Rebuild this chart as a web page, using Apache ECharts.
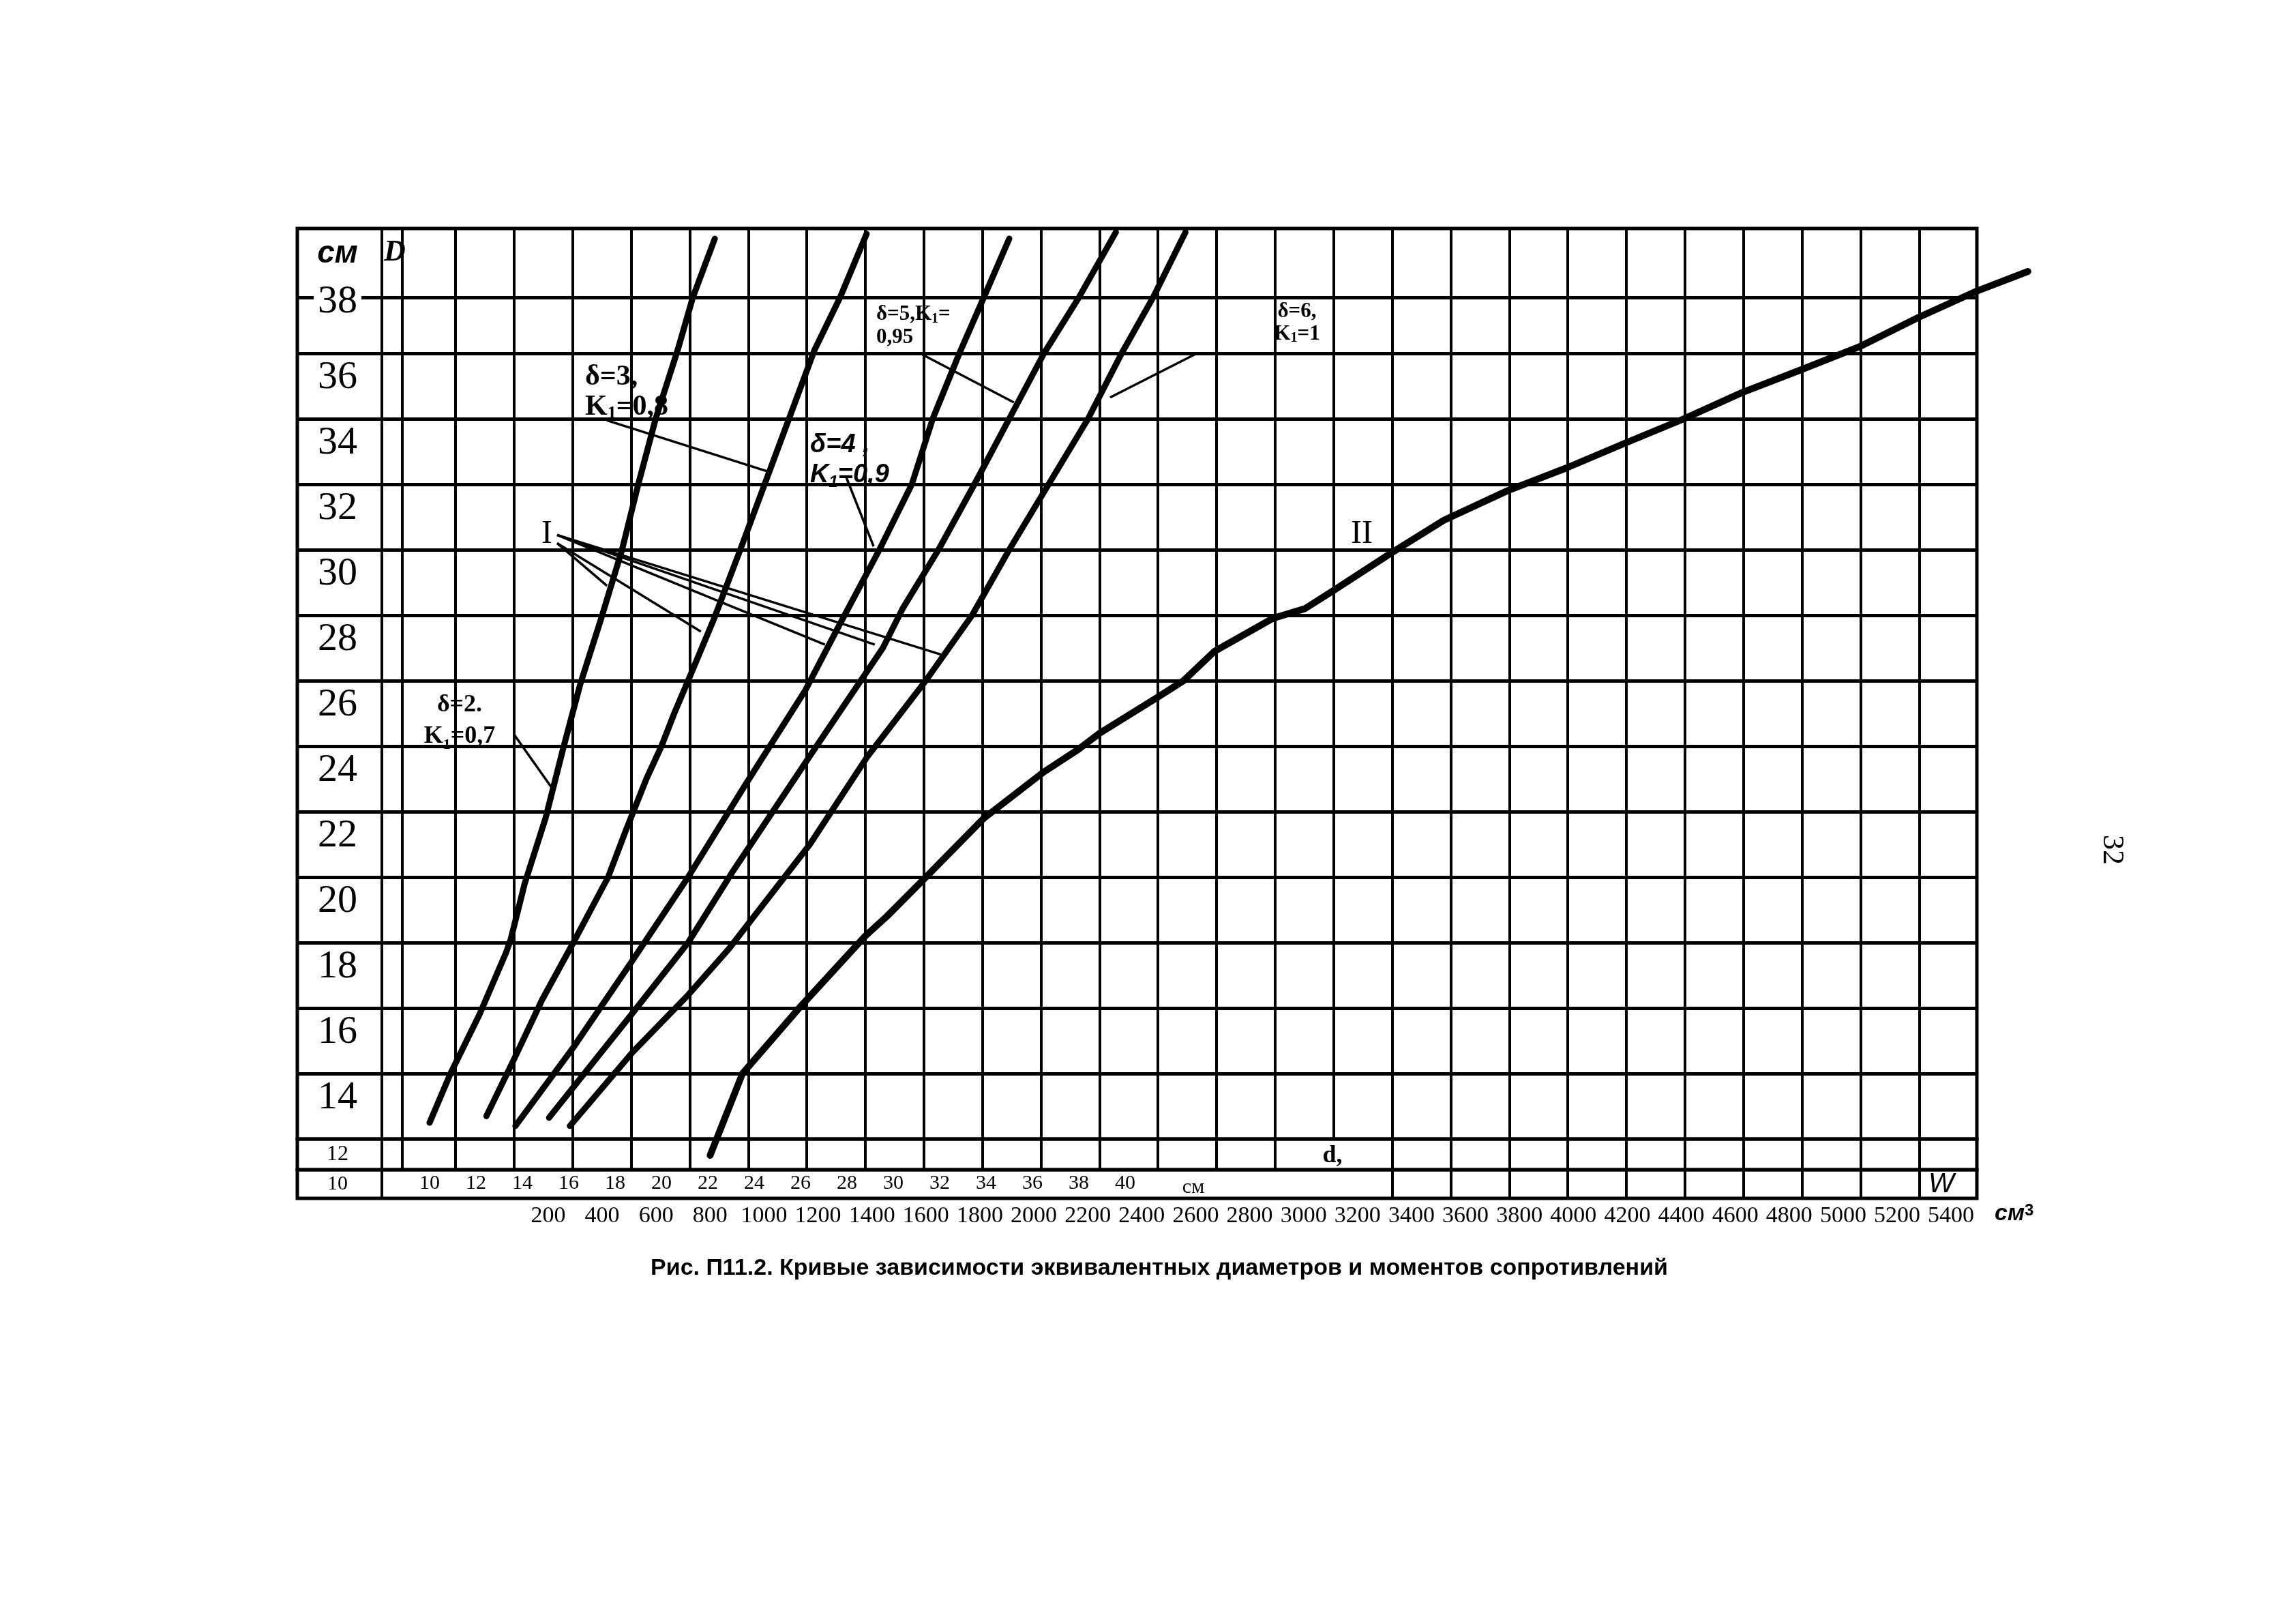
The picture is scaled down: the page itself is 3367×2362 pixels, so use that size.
<!DOCTYPE html>
<html><head><meta charset="utf-8">
<script src="https://cdn.jsdelivr.net/npm/echarts@6/dist/echarts.min.js"></script>
<style>html,body{margin:0;padding:0;background:#fff}#c{width:3367px;height:2362px}</style>
</head><body><div id="c"></div>
<script>
// ================= DATA =================
// D scale (cm): labels inside rows, row boundaries
const rowLabelValues = [14, 16, 18, 20, 22, 24, 26, 28, 30, 32, 34, 36];
const rowLineValues = [15, 17, 19, 21, 23, 25, 27, 29, 31, 33, 35, 37];
const topLineValue = 38.7;            // the line carrying the "38" label
const topLineLabel = '38';
const lowRowLabels = ['12', '10'];
// d scale (cm) and W scale (cm^3)
const dLabels = [10, 12, 14, 16, 18, 20, 22, 24, 26, 28, 30, 32, 34, 36, 38, 40];
const wLabels = [200, 400, 600, 800, 1000, 1200, 1400, 1600, 1800, 2000, 2200, 2400, 2600, 2800,
  3000, 3200, 3400, 3600, 3800, 4000, 4200, 4400, 4600, 4800, 5000, 5200, 5400];

// Family I curves: [d, D]
const curveI_d2 = [[10.0,13.5],[10.9,15.0],[12.15,16.8],[13.3,18.7],[13.5,19.1],[14.1,20.8],[15.0,22.8],[15.75,24.9],[16.5,26.9],[17.4,28.9],[18.3,31.0],[19.0,33.0],[19.75,35.0],[20.7,37.1],[21.35,38.7],[22.3,40.5]];
const curveI_d3 = [[12.45,13.7],[13.65,15.45],[14.85,17.25],[16.2,19.0],[16.95,20.0],[17.7,21.0],[18.45,22.4],[19.35,24.0],[20.0,25.0],[20.55,26.0],[21.15,27.0],[22.3,28.95],[23.4,31.0],[24.45,33.0],[25.5,35.0],[26.6,37.1],[27.7,38.7],[28.85,40.65]];
const curveI_d4 = [[13.7,13.4],[16.2,15.8],[18.7,18.4],[21.15,21.0],[23.6,23.8],[26.2,26.7],[27.6,28.6],[29.4,31.0],[30.8,33.0],[31.7,35.0],[32.85,37.0],[33.9,38.7],[35.0,40.5]];
const curveI_d5 = [[15.15,13.65],[18.7,16.8],[21.15,19.0],[23.1,21.2],[26.4,24.7],[29.55,28.0],[30.4,29.2],[31.95,31.0],[33.5,33.0],[35.0,35.0],[36.5,37.0],[38.0,38.7],[39.6,40.7]];
const curveI_d6 = [[16.05,13.4],[18.75,15.65],[21.15,17.4],[22.9,18.8],[26.4,22.0],[28.9,24.7],[31.4,27.0],[33.4,29.0],[35.0,31.0],[36.7,33.0],[38.4,35.0],[39.85,37.0],[41.2,38.7],[42.6,40.7]];
// Curve II: [W, D]
const curveII = [[800,12.5],[920,15.0],[1130,17.0],[1375,19.2],[1455,19.8],[1600,21.0],[1815,22.8],[2035,24.2],[2165,24.9],[2245,25.4],[2460,26.5],[2555,27.0],[2670,27.9],[2885,28.9],[3005,29.2],[3110,29.75],[3325,30.9],[3520,31.9],[3755,32.8],[3975,33.5],[4190,34.25],[4410,35.0],[4625,35.8],[4845,36.5],[5060,37.2],[5280,38.1],[5495,38.9],[5685,39.5]];
// Leader lines in [d, D]
const leaders = [
  [[13.65,25.35],[15.3,23.7]],
  [[17.65,34.95],[24.55,33.4]],
  [[27.95,33.25],[29.15,31.1]],
  [[31.15,37.0],[35.2,35.5]],
  [[43.1,37.0],[39.35,35.65]],
  [[15.5,31.2],[17.65,29.9]],
  [[15.5,31.2],[21.7,28.5]],
  [[15.5,31.45],[27.05,28.1]],
  [[15.5,31.45],[29.2,28.1]],
  [[15.5,31.45],[32.05,27.8]]
];

// ================= LAYOUT =================
const SERIF = '"Liberation Serif", "DejaVu Serif", serif';
const SANS = '"Liberation Sans", "DejaVu Sans", sans-serif';
const L = 436, R = 2899, T = 335, B0 = 1670, B1 = 1715, B2 = 1757;
const colPx0 = 582.15, colW = 85.85;
const cOf = px => (px - colPx0) / colW;
const xMin = cOf(L), xMax = cOf(R);
const yMin = 13, yMax = 13 + (B0 - T) / 48;
const cols = Array.from({length: 26}, (_, i) => i + 1);
const colLinesMain = [cOf(560), cOf(590)].concat(cols);
const colLinesRow12 = [cOf(560), cOf(590)].concat(cols.filter(c => c !== 16));
const colLinesRow10 = [cOf(560)].concat(cols.filter(c => c >= 17));
// d axis: 10 at 630px, 34 px per cm; W axis: 200 at 804px, 0.3956 px per cm^3
const dLeft = 630, dPx = 34, dMax = 46;
const wLeft = 804, wPx = 0.3956, wMax = 6000;

const blk = '#000';
function gridXAxis(gi, lines, w) {
  return {type: 'value', gridIndex: gi, min: xMin, max: xMax,
    axisLine: {show: false}, axisLabel: {show: false},
    axisTick: {show: false, customValues: lines},
    splitLine: {show: true, lineStyle: {color: blk, width: w}}};
}
function catYAxis(gi, label, size) {
  return {type: 'category', gridIndex: gi, data: [label],
    axisLine: {show: false}, axisTick: {show: false}, splitLine: {show: false},
    axisLabel: {inside: true, margin: 59, align: 'center', color: blk, fontFamily: SERIF, fontSize: size}};
}
function hiddenY(gi) { return {type: 'value', gridIndex: gi, min: yMin, max: yMax, show: false}; }

const fam = [curveI_d2, curveI_d3, curveI_d4, curveI_d5, curveI_d6];
const series = fam.map((d, i) => ({
  type: 'line', name: 'I-' + (i + 2), xAxisIndex: 3, yAxisIndex: 3, data: d,
  symbol: 'none', clip: false, silent: true,
  lineStyle: {color: blk, width: 9, cap: 'round', join: 'round'}
}));
series.push({type: 'line', name: 'II', xAxisIndex: 4, yAxisIndex: 4, data: curveII,
  symbol: 'none', clip: false, silent: true,
  lineStyle: {color: blk, width: 10, cap: 'round', join: 'round'}});
series.push({type: 'lines', coordinateSystem: 'cartesian2d', xAxisIndex: 3, yAxisIndex: 3,
  clip: false, silent: true, polyline: false,
  data: leaders.map(p => ({coords: p})),
  lineStyle: {color: blk, width: 3.5, opacity: 1, curveness: 0}});

function txt(x, y, text, font, align, va, extra) {
  return {type: 'text', x: x, y: y, silent: true,
    style: Object.assign({text: text, font: font, fill: blk, align: align || 'center', verticalAlign: va || 'middle'}, extra || {})};
}
function subRich(size, fam, weight, style) {
  return {s: {font: (style || '') + ' ' + (weight || '') + ' ' + size + 'px ' + fam, verticalAlign: 'bottom', fill: blk}};
}

const graphics = [
  txt(495, 372, 'см', 'italic bold 46px ' + SANS),
  txt(579, 371, 'D', 'italic bold 44px ' + SERIF),
  txt(858, 531, 'δ=3,\nK{s|1}=0,8', 'bold 42px ' + SERIF, 'left', 'top', {lineHeight: 44, rich: subRich(26, SERIF, 'bold')}),
  txt(1188, 631, 'δ=4 ,\nK{s|1}=0,9', 'italic bold 38px ' + SANS, 'left', 'top', {lineHeight: 44, rich: subRich(24, SANS, 'bold', 'italic')}),
  txt(1285, 444, 'δ=5,K{s|1}=\n0,95', 'bold 31px ' + SERIF, 'left', 'top', {lineHeight: 34, rich: subRich(20, SERIF, 'bold')}),
  txt(1902, 440, 'δ=6,\nK{s|1}=1', 'bold 31px ' + SERIF, 'center', 'top', {lineHeight: 33, rich: subRich(20, SERIF, 'bold')}),
  txt(674, 1011, 'δ=2.\nK{s|1}=0,7', 'bold 36px ' + SERIF, 'center', 'top', {lineHeight: 46, rich: subRich(22, SERIF, 'bold')}),
  txt(802, 783, 'I', '48px ' + SERIF),
  txt(1997, 783, 'II', '48px ' + SERIF),
  txt(1954, 1695, 'd,', 'bold 36px ' + SERIF),
  txt(2847, 1737, 'W', 'italic 40px ' + SANS),
  txt(1750, 1741, 'см', '30px ' + SERIF),
  txt(2925, 1780, 'см{p|3}', 'italic bold 34px ' + SANS, 'left', 'middle', {rich: {p: {font: 'bold 24px ' + SANS, verticalAlign: 'top', fill: blk}}}),
  txt(1700, 1860, 'Рис. П11.2. Кривые зависимости эквивалентных диаметров и моментов сопротивлений', 'bold 34px ' + SANS),
  Object.assign(txt(3097, 1246, '32', '44px ' + SERIF), {rotation: -Math.PI / 2})
];

const option = {
  backgroundColor: '#fff',
  animation: false,
  grid: [
    {left: L, top: T, width: R - L, height: B0 - T, show: true, borderColor: blk, borderWidth: 5, backgroundColor: 'transparent'},
    {left: L, top: B0, width: R - L, height: B1 - B0, show: true, borderColor: blk, borderWidth: 5, backgroundColor: 'transparent'},
    {left: L, top: B1, width: R - L, height: B2 - B1, show: true, borderColor: blk, borderWidth: 5, backgroundColor: 'transparent'},
    {left: dLeft, top: T, width: (dMax - 10) * dPx, height: B0 - T, show: false},
    {left: wLeft, top: T, width: (wMax - 200) * wPx, height: B0 - T, show: false}
  ],
  xAxis: [
    gridXAxis(0, colLinesMain, 4),
    gridXAxis(1, colLinesRow12, 4),
    gridXAxis(2, colLinesRow10, 4),
    {type: 'value', gridIndex: 3, min: 10, max: dMax,
      axisLine: {show: false}, axisTick: {show: false}, splitLine: {show: false},
      axisLabel: {customValues: dLabels, margin: 50, color: blk, fontFamily: SERIF, fontSize: 30,
        formatter: v => String(v)}},
    {type: 'value', gridIndex: 4, min: 200, max: wMax,
      axisLine: {show: false}, axisTick: {show: false}, splitLine: {show: false},
      axisLabel: {customValues: wLabels, margin: 96, color: blk, fontFamily: SERIF, fontSize: 34,
        formatter: v => String(v)}}
  ],
  yAxis: [
    {type: 'value', gridIndex: 0, min: yMin, max: yMax,
      axisLine: {show: false},
      axisTick: {show: false, customValues: rowLineValues.concat([topLineValue])},
      splitLine: {show: true, lineStyle: {color: blk, width: 5}},
      axisLabel: {inside: true, margin: 59, align: 'center',
        customValues: rowLabelValues.concat([topLineValue]),
        formatter: v => v === topLineValue ? '{t|' + topLineLabel + '}' : '{n|' + v + '}',
        rich: {
          n: {fontFamily: SERIF, fontSize: 58, color: blk, padding: [0, 0, 24, 0]},
          t: {fontFamily: SERIF, fontSize: 58, color: blk, padding: [12, 6, 0, 6], backgroundColor: '#fff'}
        }}},
    catYAxis(1, lowRowLabels[0], 32),
    catYAxis(2, lowRowLabels[1], 30),
    hiddenY(3),
    hiddenY(4)
  ],
  graphic: graphics,
  series: series
};
const chart = echarts.init(document.getElementById('c'), null, {width: 3367, height: 2362});
chart.setOption(option);
</script>
</body></html>
